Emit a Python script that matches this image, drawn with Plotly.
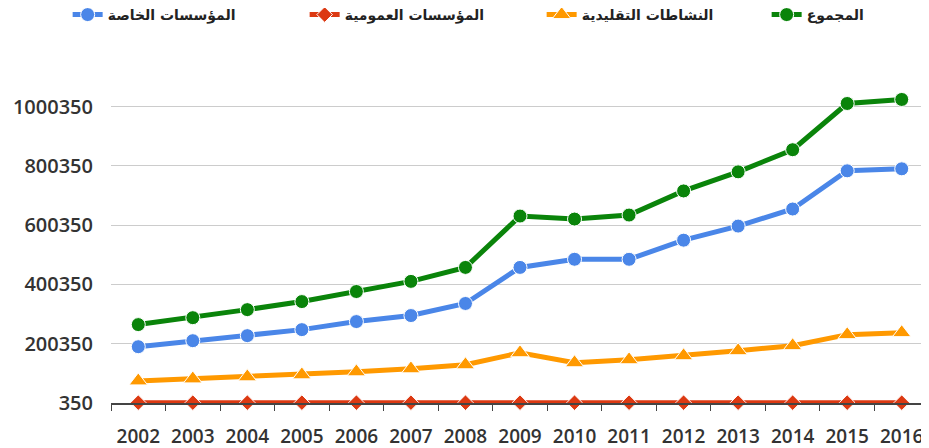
import plotly.graph_objects as go

years = ["2002", "2003", "2004", "2005", "2006", "2007", "2008", "2009",
         "2010", "2011", "2012", "2013", "2014", "2015", "2016"]

private_inst = [190200, 210500, 227500, 247800, 275000, 295300, 336000, 457600,
                485100, 485000, 549500, 597000, 654600, 783400, 790200]
public_inst = [1500, 1500, 1500, 1500, 1500, 1500, 1500, 1500,
               1500, 1500, 1500, 1500, 1500, 1500, 1500]
traditional = [74900, 81700, 88500, 95300, 105400, 115600, 129200, 169800,
               136000, 146100, 159700, 176600, 193600, 230850, 237600]
total = [264750, 288100, 315250, 342400, 376300, 410500, 457600, 630850,
         620700, 634200, 715600, 780000, 854600, 1010500, 1024100]

names = ["المؤسسات الخاصة", "المؤسسات العمومية", "النشاطات التقليدية", "المجموع"]
y_ticks = [350, 200350, 400350, 600350, 800350, 1000350]

fig = go.Figure()
styles = [
    (private_inst, "#4a86e8", "circle", 14, 192),
    (public_inst, "#dc3912", "diamond", 12, 192),
    (traditional, "#ff9900", "triangle-up", 16, 180),
    (total, "#0a840a", "circle", 14, 110),
]
for (vals, col, sym, sz, lw), nm in zip(styles, names):
    fig.add_trace(go.Scatter(
        x=years, y=vals, name=nm, mode="lines+markers",
        line=dict(color=col, width=5),
        marker=dict(color=col, symbol=sym, size=sz, line=dict(color="white", width=1)),
        cliponaxis=False, legendwidth=lw,
    ))

# the page body has an 8px margin, so the figure is 921x440 and offset by 8px
fig.update_layout(
    width=921, height=440,
    margin=dict(l=103, r=0, t=42, b=45, autoexpand=False),
    paper_bgcolor="white", plot_bgcolor="white",
    font=dict(family="Open Sans, DejaVu Sans, sans-serif", color="#333"),
    showlegend=True,
    legend=dict(
        orientation="h", xref="paper", yref="paper",
        x=-0.053, y=1.0992, xanchor="left", yanchor="middle",
        font=dict(size=14, color="#222", family="DejaVu Sans, sans-serif", weight="bold"),
        bgcolor="rgba(0,0,0,0)", itemsizing="trace",
    ),
)
fig.update_xaxes(
    type="category", range=[-0.5, 14.5], automargin=False,
    tickson="boundaries", ticks="outside", ticklen=6, tickcolor="#444",
    showline=True, linecolor="#444", linewidth=1.5,
    showgrid=False,
    tickfont=dict(size=19, color="#333", weight=600),
    ticklabelstandoff=15,
)
fig.update_yaxes(
    range=[350, 1190900], automargin=False,
    tickvals=y_ticks, ticktext=[str(v) for v in y_ticks],
    showgrid=True, gridcolor="#cccccc", gridwidth=1,
    zeroline=False, showline=False, ticks="",
    tickfont=dict(size=20, color="#333", weight=600),
    ticklabelstandoff=17,
)

fig.write_html("out.html")
